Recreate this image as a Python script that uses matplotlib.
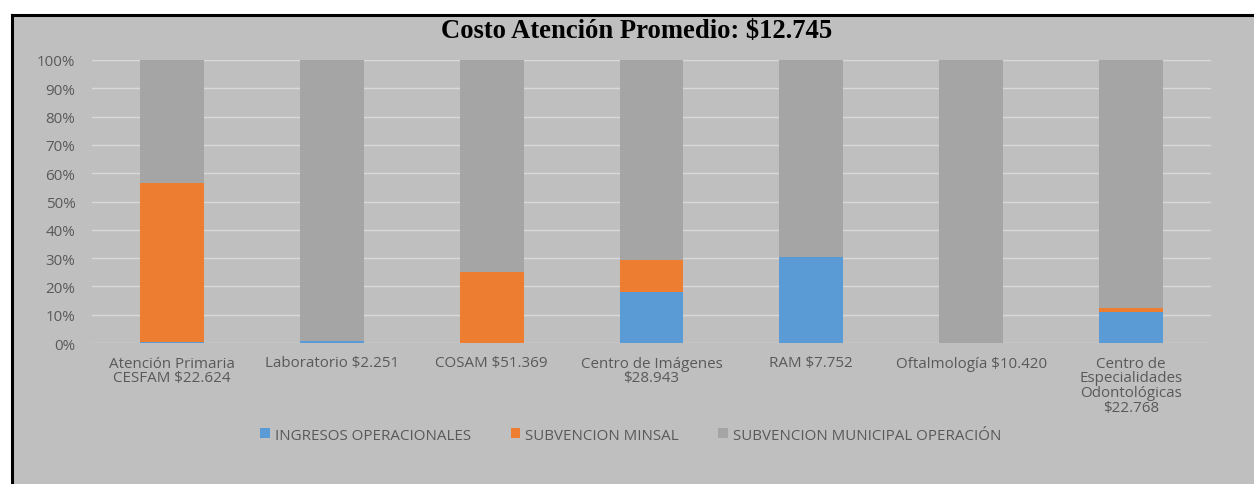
import matplotlib
matplotlib.use("Agg")
import matplotlib.pyplot as plt
from matplotlib.patches import Rectangle
from matplotlib.lines import Line2D
import numpy as np

categories = ["Atención Primaria\nCESFAM $22.624", "Laboratorio $2.251", "COSAM $51.369",
              "Centro de Imágenes\n$28.943", "RAM $7.752", "Oftalmología $10.420",
              "Centro de\nEspecialidades\nOdontológicas\n$22.768"]
ingresos = [0.2, 0.7, 0.0, 18.0, 30.3, 0.0, 11.0]
minsal = [56.3, 0.0, 25.0, 11.5, 0.0, 0.0, 1.3]
municipal = [100 - a - b for a, b in zip(ingresos, minsal)]
series_names = ["INGRESOS OPERACIONALES", "SUBVENCION MINSAL", "SUBVENCION MUNICIPAL OPERACIÓN"]
title = "Costo Atención Promedio: $12.745"

W, H = 1254, 485
fig = plt.figure(figsize=(W / 100, H / 100), dpi=100, facecolor="white")

bg = "#BFBFBF"
fig.patches.append(Rectangle((11 / W, 0), 1 - 11 / W, 1 - 16 / H, transform=fig.transFigure,
                             facecolor=bg, edgecolor="none", zorder=-10))
fig.lines.append(Line2D([12 / W, 1], [1 - 15.5 / H, 1 - 15.5 / H], transform=fig.transFigure,
                        color="black", lw=2.2, zorder=-5))
fig.lines.append(Line2D([12 / W, 12 / W], [0, 1 - 15.5 / H], transform=fig.transFigure,
                        color="black", lw=2.2, zorder=-5))

ax = fig.add_axes([92 / W, 1 - 344 / H, (1211 - 92) / W, (344 - 61) / H])
ax.set_facecolor(bg)
font = "Open Sans"
tc = "#595959"
fs = 10.9

x = np.arange(len(categories))
colors = ["#5B9BD5", "#ED7D31", "#A5A5A5"]
bottom = np.zeros(len(categories))
for vals, c, name in zip([ingresos, minsal, municipal], colors, series_names):
    ax.bar(x, np.array(vals) / 100, width=0.4, bottom=bottom, color=c, label=name, zorder=3)
    bottom += np.array(vals) / 100

ax.set_xlim(-0.5, len(categories) - 0.5)
ax.set_ylim(0, 1)
ax.set_yticks(np.arange(0, 1.01, 0.1))
ax.set_yticklabels([f"{int(round(v * 100))}%" for v in np.arange(0, 1.01, 0.1)],
                   fontsize=fs, color=tc, family=font)
ax.set_xticks(x)
ax.set_xticklabels(categories, fontsize=fs, color=tc, family=font, linespacing=0.98)
ax.tick_params(length=0)
ax.tick_params(axis="y", pad=12)
ax.tick_params(axis="x", pad=9)
ax.grid(axis="y", color="#D9D9D9", lw=1, zorder=1)
for s in ax.spines.values():
    s.set_visible(False)

fig.text(637 / W, 1 - 32 / H, title, ha="center", va="center", fontsize=19.2,
         fontweight="bold", family="Liberation Serif", color="black")

leg = fig.legend(loc="center", bbox_to_anchor=(631 / W, 1 - 436 / H), ncol=3, frameon=False,
                 prop={"family": font, "size": fs}, handlelength=0.65, handleheight=0.65,
                 handletextpad=0.33, columnspacing=2.6)
for t in leg.get_texts():
    t.set_color(tc)

fig.savefig("out.png", dpi=100, facecolor="white")
